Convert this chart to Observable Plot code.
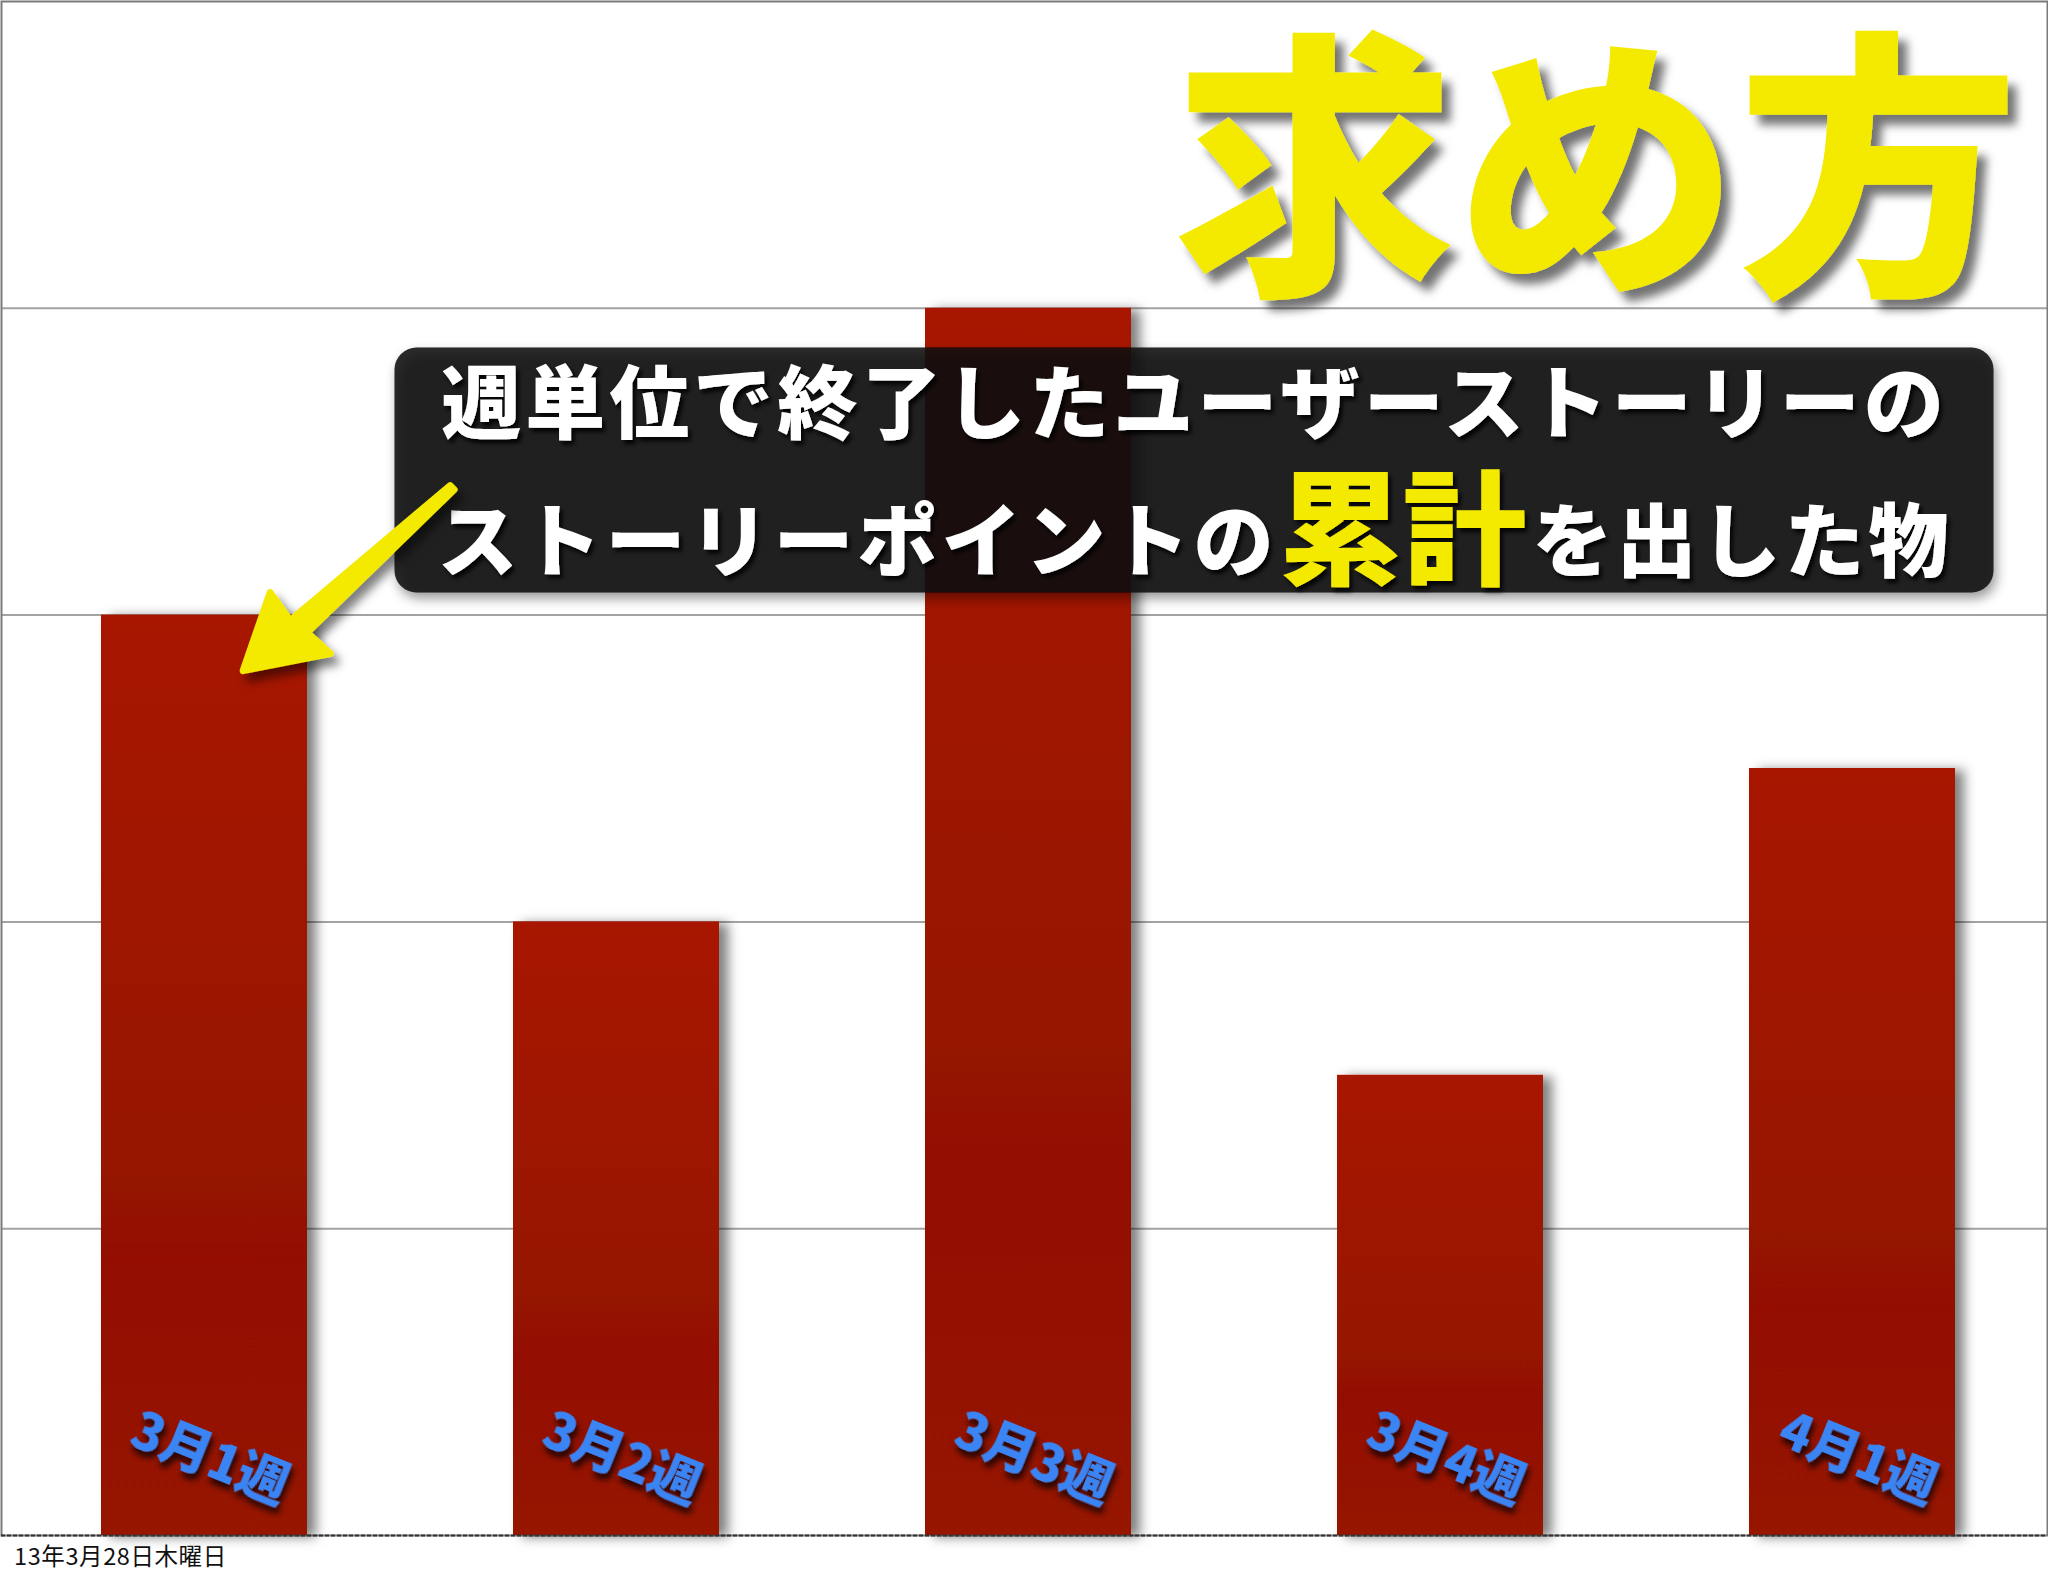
<!DOCTYPE html>
<html><head><meta charset="utf-8">
<script src="https://cdn.jsdelivr.net/npm/d3@7"></script>
<script src="https://cdn.jsdelivr.net/npm/@observablehq/plot@0.6"></script>
<style>
html,body{margin:0;padding:0;background:#fff;}
figure{margin:0;}
figcaption{font-family:"Noto Sans CJK JP","Noto Sans CJK SC",sans-serif;font-size:23.5px;letter-spacing:0.6px;color:#111;padding-left:14px;line-height:30px;margin:0;}
</style></head><body><div id="chart"></div>
<script>
const weeks = ["3月1週", "3月2週", "3月3週", "3月4週", "4月1週"];
const points = [3, 2, 4, 1.5, 2.5];
const gridTicks = [1, 2, 3, 4];
const titleText = "求め方";
const calloutLine1 = "週単位で終了したユーザーストーリーの";
const calloutLine2a = "ストーリーポイントの";
const calloutLine2b = "累計";
const calloutLine2c = "を出した物";
const captionText = "13年3月28日木曜日";

const data = weeks.map((w, i) => ({week: w, value: points[i]}));
const FONT = '"Noto Sans CJK JP", "Noto Sans CJK SC", sans-serif';

const fig = Plot.plot({
  width: 2048, height: 1540,
  marginTop: 1, marginLeft: 1, marginRight: 1, marginBottom: 5,
  style: {background: "#fff", fontFamily: FONT, overflow: "visible"},
  x: {type: "band", domain: weeks, range: [-2, 2058], paddingInner: 0.5, paddingOuter: 0.25, axis: null},
  y: {domain: [0, 5], axis: null},
  caption: captionText,
  marks: [
    Plot.ruleY(gridTicks, {stroke: "#a3a3a3", strokeWidth: 2}),
    Plot.frame({stroke: "#7a7a7a", strokeWidth: 2}),
    Plot.barY(data, {x: "week", y: "value", fill: "url(#barGrad)"}),
    Plot.text(data, {x: "week", y: 0, text: "week", dx: 5, dy: -76, rotate: 22, fontSize: 51, fontWeight: 900, fill: "#3b84f4"}),
    Plot.ruleY([0], {stroke: "#333", strokeWidth: 2, strokeDasharray: "4,2"}),
    Plot.text([titleText], {text: d => d, frameAnchor: "top-left", dx: 1595, dy: 272, lineAnchor: "bottom", textAnchor: "middle", fontSize: 282, fontWeight: 900, fill: "#f4ea00"}),
    Plot.frame({insetLeft: 393, insetRight: 54, insetTop: 346, insetBottom: 943, rx: 22, fill: "#0a0a0a", fillOpacity: 0.88}),
    Plot.text([calloutLine1], {text: d => d, frameAnchor: "top-left", dx: 1193, dy: 430, lineAnchor: "bottom", textAnchor: "middle", fontSize: 80, fontWeight: 900, fill: "#ffffff"}),
    Plot.text([calloutLine2a], {text: d => d, frameAnchor: "top-left", dx: 436, dy: 568, lineAnchor: "bottom", textAnchor: "start", fontSize: 80, fontWeight: 900, fill: "#ffffff"}),
    Plot.text([calloutLine2b], {text: d => d, frameAnchor: "top-left", dx: 1401, dy: 573, lineAnchor: "bottom", textAnchor: "middle", fontSize: 124, fontWeight: 900, fill: "#f4ea00"}),
    Plot.text([calloutLine2c], {text: d => d, frameAnchor: "top-left", dx: 1531, dy: 568, lineAnchor: "bottom", textAnchor: "start", fontSize: 80, fontWeight: 900, fill: "#ffffff"})
  ]
});
document.getElementById("chart").appendChild(fig);

const svgEl = fig.tagName.toLowerCase() === "svg" ? fig : fig.querySelector("svg");
const svg = d3.select(svgEl);
const defs = svg.insert("defs", ":first-child");
const grad = defs.append("linearGradient").attr("id", "barGrad").attr("x1", 0).attr("y1", 0).attr("x2", 0).attr("y2", 1);
grad.append("stop").attr("offset", "0%").attr("stop-color", "#a81902");
grad.append("stop").attr("offset", "70%").attr("stop-color", "#931100");
grad.append("stop").attr("offset", "100%").attr("stop-color", "#961200");
function shadow(id, dx, dy, sd, op) {
  defs.append("filter").attr("id", id).attr("x", "-30%").attr("y", "-30%").attr("width", "160%").attr("height", "160%")
    .append("feDropShadow").attr("dx", dx).attr("dy", dy).attr("stdDeviation", sd)
    .attr("flood-color", "#000").attr("flood-opacity", op);
}
shadow("barShadow", 9, 2, 6, 0.5);
shadow("labelShadow", 4, 5, 3, 0.8);
shadow("titleShadow", 9, 10, 5, 0.55);
shadow("boxShadow", 3, 6, 6, 0.45);
shadow("textShadow", 3, 4, 2, 0.9);
shadow("arrowShadow", 6, 8, 5, 0.5);

svg.selectAll('g[aria-label="bar"]').attr("filter", "url(#barShadow)");
svg.selectAll("text").each(function () {
  const t = this.textContent;
  if (weeks.includes(t)) this.setAttribute("filter", "url(#labelShadow)");
  else if (t === titleText) this.setAttribute("filter", "url(#titleShadow)");
  else if (t === calloutLine1 || t === calloutLine2a || t === calloutLine2b || t === calloutLine2c) {
    this.setAttribute("filter", "url(#textShadow)");
    if (t !== calloutLine2b) this.style.letterSpacing = "4px";
  }
});
svg.selectAll('[aria-label="frame"]').each(function () {
  const el = this.tagName.toLowerCase() === "rect" ? this : this.querySelector("rect");
  if (el && el.getAttribute("fill") && el.getAttribute("fill") !== "none") el.setAttribute("filter", "url(#boxShadow)");
});

// arrow anchored to the top of the first bar
const xs = fig.scale("x"), ys = fig.scale("y");
const tx = xs.apply(weeks[0]) + 0.69 * xs.bandwidth;
const ty = ys.apply(points[0]) + 56;
const pts = [[0, 0], [27, -78], [47, -50], [207, -185], [211, -181], [64, -38], [87, -17]];
svg.append("path")
  .attr("d", "M" + pts.map(p => (tx + p[0]) + "," + (ty + p[1])).join("L") + "Z")
  .attr("fill", "#f4ea00").attr("stroke", "#f4ea00").attr("stroke-width", 7).attr("stroke-linejoin", "round")
  .attr("filter", "url(#arrowShadow)");
</script></body></html>
